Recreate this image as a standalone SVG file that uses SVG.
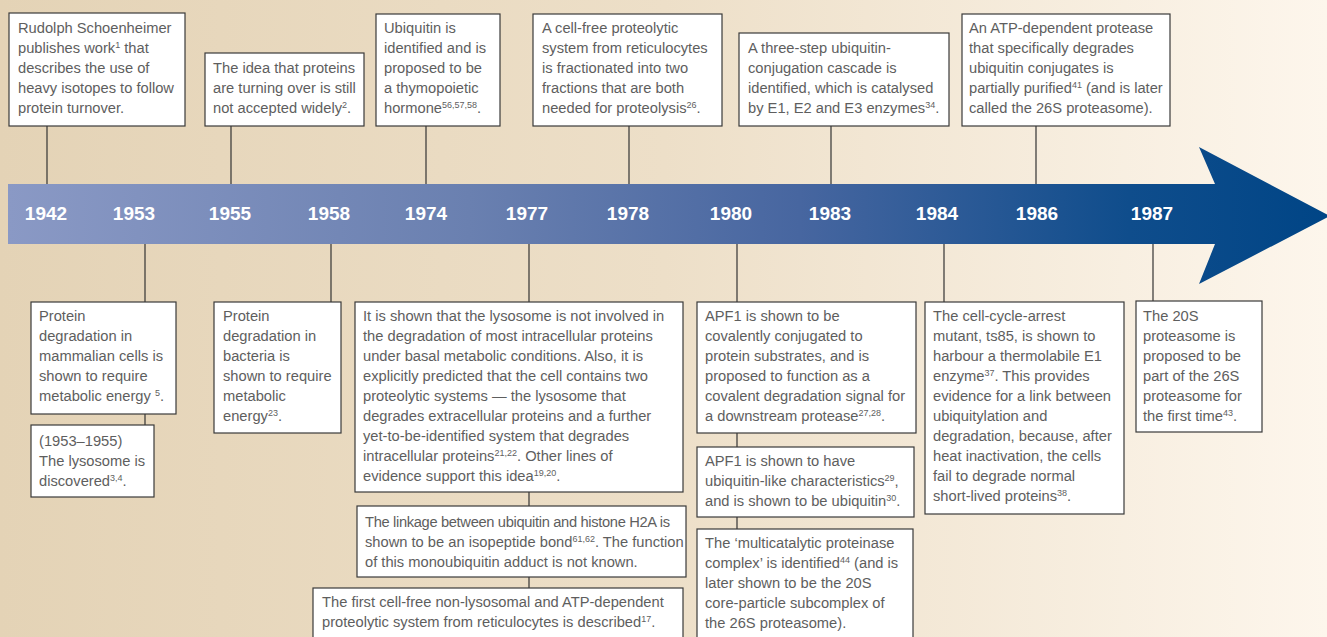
<svg xmlns="http://www.w3.org/2000/svg" width="1327" height="637" viewBox="0 0 1327 637">
  <defs>
    <linearGradient id="bg" x1="0" y1="0" x2="1327" y2="0" gradientUnits="userSpaceOnUse">
      <stop offset="0" stop-color="#e4d3b6"/>
      <stop offset="0.5" stop-color="#eddfc8"/>
      <stop offset="1" stop-color="#fdf6ec"/>
    </linearGradient>
    <linearGradient id="band" x1="8" y1="0" x2="1327" y2="0" gradientUnits="userSpaceOnUse">
      <stop offset="0" stop-color="#8a99c5"/>
      <stop offset="0.35" stop-color="#6a80b0"/>
      <stop offset="0.6" stop-color="#4766a0"/>
      <stop offset="0.85" stop-color="#0f4d8c"/>
      <stop offset="1" stop-color="#004586"/>
    </linearGradient>
    <style>
      .box{fill:#ffffff;stroke:#3a3a3a;stroke-width:1.2}
      .link{stroke:#333333;stroke-width:1.2;fill:none}
      .t{font-family:"Liberation Sans",Arial,Helvetica,sans-serif;font-size:14.7px;fill:#5e5e5e}
      .s{font-size:9px}
      .yr{font-family:"Liberation Sans Narrow","Liberation Sans",Arial,sans-serif;font-size:19px;font-weight:bold;fill:#ffffff;text-anchor:middle}
    </style>
  </defs>

  <!-- background -->
  <rect x="0" y="0" width="1327" height="637" fill="url(#bg)"/>

  <!-- timeline arrow -->
  <g id="timeline">
    <path d="M8 184 H1215 L1199 147 L1330 216 L1199 284 L1215 244 H8 Z" fill="url(#band)"/>
    <text class="yr" x="46" y="220">1942</text>
    <text class="yr" x="134" y="220">1953</text>
    <text class="yr" x="230" y="220">1955</text>
    <text class="yr" x="329" y="220">1958</text>
    <text class="yr" x="426" y="220">1974</text>
    <text class="yr" x="527" y="220">1977</text>
    <text class="yr" x="628" y="220">1978</text>
    <text class="yr" x="731" y="220">1980</text>
    <text class="yr" x="830" y="220">1983</text>
    <text class="yr" x="937" y="220">1984</text>
    <text class="yr" x="1037" y="220">1986</text>
    <text class="yr" x="1152" y="220">1987</text>
  </g>

  <!-- connectors -->
  <g id="connectors">
    <line class="link" x1="47" y1="126" x2="47" y2="184"/>
    <line class="link" x1="231" y1="126" x2="231" y2="184"/>
    <line class="link" x1="426" y1="126" x2="426" y2="184"/>
    <line class="link" x1="629" y1="126" x2="629" y2="184"/>
    <line class="link" x1="831" y1="126" x2="831" y2="184"/>
    <line class="link" x1="1036" y1="126" x2="1036" y2="184"/>
    <line class="link" x1="145" y1="244" x2="145" y2="302"/>
    <line class="link" x1="145" y1="414" x2="145" y2="425"/>
    <line class="link" x1="331" y1="244" x2="331" y2="302"/>
    <line class="link" x1="529" y1="244" x2="529" y2="302"/>
    <line class="link" x1="529" y1="492" x2="529" y2="506"/>
    <line class="link" x1="529" y1="577" x2="529" y2="588"/>
    <line class="link" x1="737" y1="244" x2="737" y2="302"/>
    <line class="link" x1="737" y1="433" x2="737" y2="447"/>
    <line class="link" x1="737" y1="517" x2="737" y2="529"/>
    <line class="link" x1="944" y1="244" x2="944" y2="302"/>
    <line class="link" x1="1153" y1="244" x2="1153" y2="301"/>
  </g>

  <!-- events above the timeline -->
  <g id="ev1942">
    <rect class="box" x="9" y="13" width="176" height="113"/>
    <text class="t">
      <tspan x="18" y="33">Rudolph Schoenheimer</tspan>
      <tspan x="18" y="53">publishes work<tspan class="s" dy="-5">1</tspan><tspan dy="5"> that</tspan></tspan>
      <tspan x="18" y="73">describes the use of</tspan>
      <tspan x="18" y="93">heavy isotopes to follow</tspan>
      <tspan x="18" y="113">protein turnover.</tspan>
    </text>
  </g>
  <g id="ev1955">
    <rect class="box" x="205" y="53" width="159" height="73"/>
    <text class="t">
      <tspan x="213" y="73">The idea that proteins</tspan>
      <tspan x="213" y="93">are turning over is still</tspan>
      <tspan x="213" y="113">not accepted widely<tspan class="s" dy="-5">2</tspan><tspan dy="5">.</tspan></tspan>
    </text>
  </g>
  <g id="ev1974">
    <rect class="box" x="376" y="14" width="124" height="112"/>
    <text class="t">
      <tspan x="384" y="33">Ubiquitin is</tspan>
      <tspan x="384" y="53">identified and is</tspan>
      <tspan x="384" y="73">proposed to be</tspan>
      <tspan x="384" y="93">a thymopoietic</tspan>
      <tspan x="384" y="113">hormone<tspan class="s" dy="-5">56,57,58</tspan><tspan dy="5">.</tspan></tspan>
    </text>
  </g>
  <g id="ev1978">
    <rect class="box" x="533" y="14" width="189" height="112"/>
    <text class="t">
      <tspan x="542" y="33">A cell-free proteolytic</tspan>
      <tspan x="542" y="53">system from reticulocytes</tspan>
      <tspan x="542" y="73">is fractionated into two</tspan>
      <tspan x="542" y="93">fractions that are both</tspan>
      <tspan x="542" y="113">needed for proteolysis<tspan class="s" dy="-5">26</tspan><tspan dy="5">.</tspan></tspan>
    </text>
  </g>
  <g id="ev1983">
    <rect class="box" x="739" y="33" width="210" height="93"/>
    <text class="t">
      <tspan x="748" y="53">A three-step ubiquitin-</tspan>
      <tspan x="748" y="73">conjugation cascade is</tspan>
      <tspan x="748" y="93">identified, which is catalysed</tspan>
      <tspan x="748" y="113">by E1, E2 and E3 enzymes<tspan class="s" dy="-5">34</tspan><tspan dy="5">.</tspan></tspan>
    </text>
  </g>
  <g id="ev1986">
    <rect class="box" x="962" y="14" width="208" height="112"/>
    <text class="t">
      <tspan x="969" y="33">An ATP-dependent protease</tspan>
      <tspan x="969" y="53">that specifically degrades</tspan>
      <tspan x="969" y="73">ubiquitin conjugates is</tspan>
      <tspan x="969" y="93">partially purified<tspan class="s" dy="-5">41</tspan><tspan dy="5"> (and is later</tspan></tspan>
      <tspan x="969" y="113">called the 26S proteasome).</tspan>
    </text>
  </g>

  <!-- events below the timeline -->
  <g id="ev1953">
    <rect class="box" x="31" y="302" width="145" height="112"/>
    <text class="t">
      <tspan x="39" y="321">Protein</tspan>
      <tspan x="39" y="341">degradation in</tspan>
      <tspan x="39" y="361">mammalian cells is</tspan>
      <tspan x="39" y="381">shown to require</tspan>
      <tspan x="39" y="401">metabolic energy <tspan class="s" dy="-5">5</tspan><tspan dy="5">.</tspan></tspan>
    </text>
  </g>
  <g id="ev1953-lysosome">
    <rect class="box" x="31" y="425" width="123" height="72"/>
    <text class="t">
      <tspan x="39" y="446">(1953–1955)</tspan>
      <tspan x="39" y="466">The lysosome is</tspan>
      <tspan x="39" y="486">discovered<tspan class="s" dy="-5">3,4</tspan><tspan dy="5">.</tspan></tspan>
    </text>
  </g>
  <g id="ev1958">
    <rect class="box" x="214" y="302" width="127" height="131"/>
    <text class="t">
      <tspan x="223" y="321">Protein</tspan>
      <tspan x="223" y="341">degradation in</tspan>
      <tspan x="223" y="361">bacteria is</tspan>
      <tspan x="223" y="381">shown to require</tspan>
      <tspan x="223" y="401">metabolic</tspan>
      <tspan x="223" y="421">energy<tspan class="s" dy="-5">23</tspan><tspan dy="5">.</tspan></tspan>
    </text>
  </g>
  <g id="ev1977">
    <rect class="box" x="355" y="302" width="328" height="190"/>
    <text class="t">
      <tspan x="363" y="321">It is shown that the lysosome is not involved in</tspan>
      <tspan x="363" y="341">the degradation of most intracellular proteins</tspan>
      <tspan x="363" y="361">under basal metabolic conditions. Also, it is</tspan>
      <tspan x="363" y="381">explicitly predicted that the cell contains two</tspan>
      <tspan x="363" y="401">proteolytic systems — the lysosome that</tspan>
      <tspan x="363" y="421">degrades extracellular proteins and a further</tspan>
      <tspan x="363" y="441">yet-to-be-identified system that degrades</tspan>
      <tspan x="363" y="461">intracellular proteins<tspan class="s" dy="-5">21,22</tspan><tspan dy="5">. Other lines of</tspan></tspan>
      <tspan x="363" y="481">evidence support this idea<tspan class="s" dy="-5">19,20</tspan><tspan dy="5">.</tspan></tspan>
    </text>
  </g>
  <g id="ev1977-h2a">
    <rect class="box" x="357" y="506" width="329" height="71"/>
    <text class="t">
      <tspan x="365" y="527" textLength="305" lengthAdjust="spacing">The linkage between ubiquitin and histone H2A is</tspan>
      <tspan x="365" y="547">shown to be an isopeptide bond<tspan class="s" dy="-5">61,62</tspan><tspan dy="5">. The function</tspan></tspan>
      <tspan x="365" y="567">of this monoubiquitin adduct is not known.</tspan>
    </text>
  </g>
  <g id="ev1977-cellfree">
    <rect class="box" x="313" y="588" width="370" height="60"/>
    <text class="t">
      <tspan x="322" y="607">The first cell-free non-lysosomal and ATP-dependent</tspan>
      <tspan x="322" y="627">proteolytic system from reticulocytes is described<tspan class="s" dy="-5">17</tspan><tspan dy="5">.</tspan></tspan>
    </text>
  </g>
  <g id="ev1980">
    <rect class="box" x="697" y="302" width="219" height="131"/>
    <text class="t">
      <tspan x="705" y="321">APF1 is shown to be</tspan>
      <tspan x="705" y="341">covalently conjugated to</tspan>
      <tspan x="705" y="361">protein substrates, and is</tspan>
      <tspan x="705" y="381">proposed to function as a</tspan>
      <tspan x="705" y="401">covalent degradation signal for</tspan>
      <tspan x="705" y="421">a downstream protease<tspan class="s" dy="-5">27,28</tspan><tspan dy="5">.</tspan></tspan>
    </text>
  </g>
  <g id="ev1980-ubiquitin">
    <rect class="box" x="697" y="447" width="217" height="70"/>
    <text class="t">
      <tspan x="705" y="466">APF1 is shown to have</tspan>
      <tspan x="705" y="486">ubiquitin-like characteristics<tspan class="s" dy="-5">29</tspan><tspan dy="5">,</tspan></tspan>
      <tspan x="705" y="506">and is shown to be ubiquitin<tspan class="s" dy="-5">30</tspan><tspan dy="5">.</tspan></tspan>
    </text>
  </g>
  <g id="ev1980-mpc">
    <rect class="box" x="697" y="529" width="216" height="120"/>
    <text class="t">
      <tspan x="705" y="548">The ‘multicatalytic proteinase</tspan>
      <tspan x="705" y="568">complex’ is identified<tspan class="s" dy="-5">44</tspan><tspan dy="5"> (and is</tspan></tspan>
      <tspan x="705" y="588">later shown to be the 20S</tspan>
      <tspan x="705" y="608">core-particle subcomplex of</tspan>
      <tspan x="705" y="628">the 26S proteasome).</tspan>
    </text>
  </g>
  <g id="ev1984">
    <rect class="box" x="925" y="302" width="199" height="212"/>
    <text class="t">
      <tspan x="933" y="321">The cell-cycle-arrest</tspan>
      <tspan x="933" y="341">mutant, ts85, is shown to</tspan>
      <tspan x="933" y="361">harbour a thermolabile E1</tspan>
      <tspan x="933" y="381">enzyme<tspan class="s" dy="-5">37</tspan><tspan dy="5">. This provides</tspan></tspan>
      <tspan x="933" y="401">evidence for a link between</tspan>
      <tspan x="933" y="421">ubiquitylation and</tspan>
      <tspan x="933" y="441">degradation, because, after</tspan>
      <tspan x="933" y="461">heat inactivation, the cells</tspan>
      <tspan x="933" y="481">fail to degrade normal</tspan>
      <tspan x="933" y="501">short-lived proteins<tspan class="s" dy="-5">38</tspan><tspan dy="5">.</tspan></tspan>
    </text>
  </g>
  <g id="ev1987">
    <rect class="box" x="1136" y="301" width="126" height="131"/>
    <text class="t">
      <tspan x="1143" y="321">The 20S</tspan>
      <tspan x="1143" y="341">proteasome is</tspan>
      <tspan x="1143" y="361">proposed to be</tspan>
      <tspan x="1143" y="381">part of the 26S</tspan>
      <tspan x="1143" y="401">proteasome for</tspan>
      <tspan x="1143" y="421">the first time<tspan class="s" dy="-5">43</tspan><tspan dy="5">.</tspan></tspan>
    </text>
  </g>
</svg>
